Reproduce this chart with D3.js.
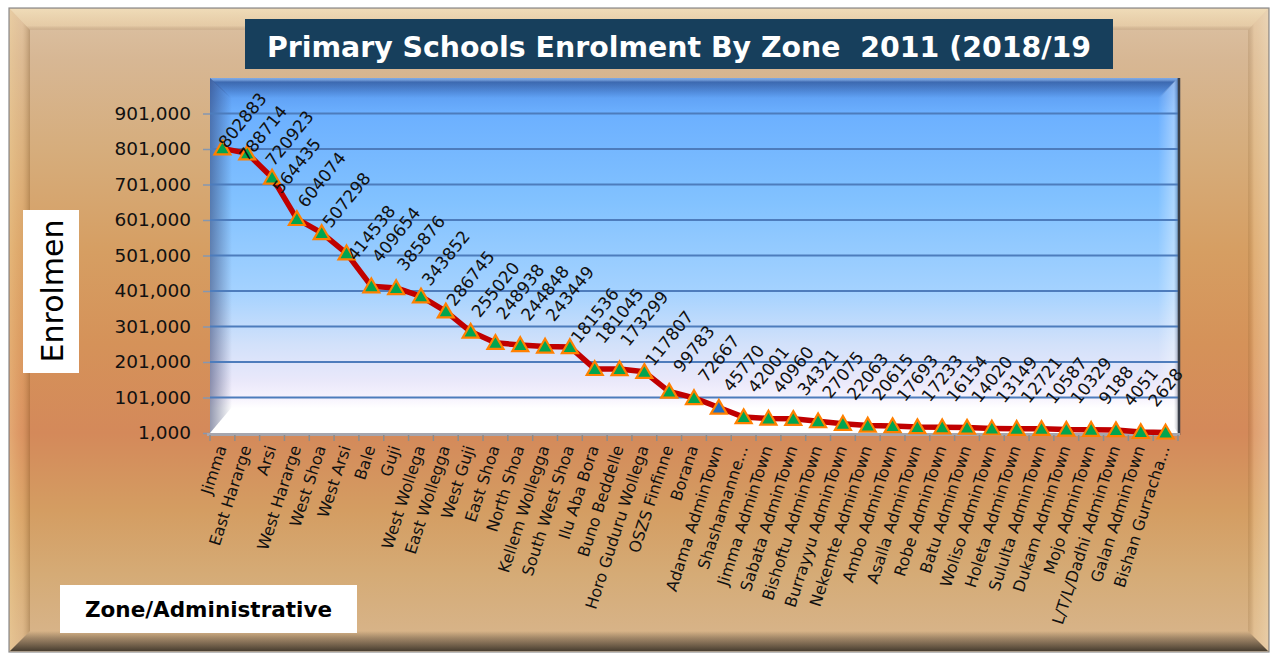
<!DOCTYPE html>
<html><head><meta charset="utf-8">
<script src="https://cdn.jsdelivr.net/npm/d3@7"></script>
<style>
html,body{margin:0;padding:0;background:#fff;}
svg{display:block;}
text{font-family:"DejaVu Sans",Verdana,sans-serif;}
</style></head><body>
<svg id="chart" width="1273" height="656"></svg>
<script>
const categories = ["Jimma","East Hararge","Arsi","West Hararge","West Shoa","West Arsi","Bale","Guji",
  "West Wollega","East Wollegga","West Guji","East Shoa","North Shoa","Kellem Wollegga","South West Shoa",
  "Ilu Aba Bora","Buno Beddelle","Horo Guduru Wollega","OSZS Finfinne","Borana","Adama AdminTown",
  "Shashamanne...","Jimma AdminTown","Sabata AdminTown","Bishoftu AdminTown","Burrayyu AdminTown",
  "Nekemte AdminTown","Ambo AdminTown","Asalla AdminTown","Robe AdminTown","Batu AdminTown",
  "Woliso AdminTown","Holeta AdminTown","Sululta AdminTown","Dukam AdminTown","Mojo AdminTown",
  "L/T/L/Dadhi AdminTown","Galan AdminTown","Bishan Gurracha..."];
const values = [802883,788714,720923,604074,564435,507298,414538,409654,385876,343852,286745,255020,
  248938,244848,243449,181536,181045,173299,117807,99783,72667,45770,42001,40960,34321,27075,22063,
  20615,17693,17233,16154,14020,13149,12721,10587,10329,9188,4051,2628];
const dataLabels = ["802883","788714","720923","564435","604074","507298","414538","409654","385876",
  "343852","286745","255020","248938","244848","243449","181536","181045","173299","117807","99783",
  "72667","45770","42001","40960","34321","27075","22063","20615","17693","17233","16154","14020",
  "13149","12721","10587","10329","9188","4051","2628"];
const highlighted = ["Adama AdminTown"];
const yTickValues = [1000,101000,201000,301000,401000,501000,601000,701000,801000,901000];
const yDomain = [1000, 1001000];
const titleText = "Primary Schools Enrolment By Zone  2011 (2018/19";
const yAxisTitle = "Enrolmen";
const xAxisTitle = "Zone/Administrative";

const svg = d3.select("#chart");
const defs = svg.append("defs");
function grad(id, x1, y1, x2, y2, stops) {
  const g = defs.append("linearGradient").attr("id", id)
    .attr("x1", x1).attr("y1", y1).attr("x2", x2).attr("y2", y2);
  stops.forEach(s => g.append("stop").attr("offset", s[0]).attr("stop-color", s[1]).attr("stop-opacity", s[2] == null ? 1 : s[2]));
  return "url(#" + id + ")";
}
const poly = pts => "M" + pts.map(p => p.join(",")).join("L") + "Z";

// ---- outer frame ----
const bgFill = grad("bg", 0, 0, 0, 1, [
  [0, "#dcc2a4"], [0.08, "#d7b794"], [0.22, "#d6ad7c"], [0.38, "#d69e62"], [0.52, "#d59259"],
  [0.66, "#d4895a"], [0.78, "#d49d62"], [0.88, "#d5ab76"], [1, "#d8b68e"]]);
svg.append("rect").attr("x", 9).attr("y", 8).attr("width", 1260).attr("height", 644)
  .attr("fill", bgFill).attr("stroke", "#8c8c8c").attr("stroke-width", 1.2);
svg.append("path").attr("d", poly([[10,9],[1268,9],[1248,30],[30,30]]))
  .attr("fill", grad("bvT", 0, 0, 0, 1, [[0, "#fff0c8", 0.55], [0.8, "#ffe8b8", 0.3], [1, "#8a6a40", 0.12]]));
svg.append("path").attr("d", poly([[10,9],[30,30],[30,631],[10,651]]))
  .attr("fill", grad("bvL", 0, 0, 1, 0, [[0, "#ffe0a0", 0.35], [0.6, "#ffd090", 0.15], [1, "#704818", 0.3]]));
svg.append("path").attr("d", poly([[1268,9],[1248,30],[1248,631],[1268,651]]))
  .attr("fill", grad("bvR", 0, 0, 1, 0, [[0, "#704818", 0.15], [0.3, "#ffe0b0", 0.25], [1, "#fff0d0", 0.4]]));
svg.append("path").attr("d", poly([[10,651],[30,631],[1248,631],[1268,651]]))
  .attr("fill", grad("bvB", 0, 0, 0, 1, [[0, "#3c3228", 0], [0.35, "#3c3228", 0.35], [1, "#2e281f", 0.85]]));

// ---- title ----
svg.append("rect").attr("x", 245).attr("y", 19).attr("width", 868).attr("height", 50).attr("fill", "#173f5c");
svg.append("text").attr("x", 679).attr("y", 57).attr("text-anchor", "middle")
  .attr("xml:space", "preserve").style("white-space", "pre")
  .attr("font-size", 28.4).attr("font-weight", "bold").attr("fill", "#ffffff").text(titleText);

// ---- plot area ----
const pl = 210, pr = 1178, pt = 78, pb = 433;
const x = d3.scaleBand().domain(categories).range([pl, pr]).padding(0);
const y = d3.scaleLinear().domain(yDomain).range([pb, pt]);
const cx = c => x(c) + x.bandwidth() / 2;

svg.append("rect").attr("x", pl).attr("y", pt).attr("width", pr - pl).attr("height", pb - pt)
  .attr("fill", grad("wall", 0, 0, 0, 1, [
    [0, "#5a92e0"], [0.04, "#5d9ef2"], [0.1, "#6cb0ff"], [0.35, "#82c2ff"], [0.6, "#a4d2ff"],
    [0.75, "#d2e1fa"], [0.85, "#e9e8fa"], [0.9, "#f6f2fd"], [0.93, "#ffffff"], [1, "#ffffff"]]));
svg.append("path").attr("d", poly([[pl,pt],[pr,pt],[pr-18,pt+20],[pl+20,pt+20]]))
  .attr("fill", grad("shT", 0, 0, 0, 1, [[0, "#ffffff", 0.2], [0.2, "#1e3c7a", 0.5], [1, "#1e3c7a", 0]]));
svg.append("path").attr("d", poly([[pl,pt],[pl+22,pt+20],[pl+22,pb-26],[pl,pb]]))
  .attr("fill", grad("shL", 0, 0, 1, 0, [[0, "#283260", 0.5], [1, "#283260", 0]]));
svg.append("path").attr("d", poly([[pr,pt],[pr-20,pt+20],[pr-20,pb-28],[pr,pb]]))
  .attr("fill", grad("shR", 0, 0, 1, 0, [[0, "#ffffff", 0], [0.8, "#ffffff", 0.35], [1, "#505868", 0.35]]));

// gridlines
svg.append("g").selectAll("line").data(yTickValues.filter(v => v > yDomain[0])).join("line")
  .attr("x1", pl).attr("x2", pr).attr("y1", d => y(d)).attr("y2", d => y(d))
  .attr("stroke", "#4d7cbc").attr("stroke-width", 2);

svg.append("line").attr("x1", pr + 1).attr("x2", pr + 1).attr("y1", pt).attr("y2", pb + 2)
  .attr("stroke", "#3a3f48").attr("stroke-width", 2.5);

// y axis
const yAxis = d3.axisLeft(y).tickValues(yTickValues).tickFormat(d3.format(",")).tickSize(7).tickPadding(12);
const yg = svg.append("g").attr("transform", `translate(${pl},0)`).call(yAxis);
yg.select(".domain").remove();
yg.selectAll(".tick line").attr("stroke", "#8497b0").attr("stroke-width", 1.5);
yg.selectAll(".tick text").attr("font-size", 18.5).attr("fill", "#111")
  .attr("font-family", "'DejaVu Sans',Verdana,sans-serif");

// x axis
svg.append("line").attr("x1", pl - 3).attr("x2", pr + 2).attr("y1", pb + 1.5).attr("y2", pb + 1.5)
  .attr("stroke", "#a6a6ae").attr("stroke-width", 3);
const boundaries = categories.map(c => x(c)).concat([x(categories[categories.length - 1]) + x.bandwidth()]);
svg.append("g").selectAll("line").data(boundaries).join("line")
  .attr("x1", d => d).attr("x2", d => d).attr("y1", pb + 2).attr("y2", pb + 8)
  .attr("stroke", "#8c8c8c").attr("stroke-width", 1.5);
svg.append("g").selectAll("text").data(categories).join("text")
  .attr("transform", d => `translate(${cx(d) - 1},${pb + 13}) rotate(-72)`)
  .attr("text-anchor", "end").attr("dy", "0.35em").attr("font-size", 16).attr("fill", "#111")
  .text(d => d);

// line + markers
const pts = categories.map((c, i) => ({ c, v: values[i], label: dataLabels[i] }));
svg.append("path").datum(pts)
  .attr("d", d3.line().x(d => cx(d.c)).y(d => y(d.v)))
  .attr("fill", "none").attr("stroke", "#c00000").attr("stroke-width", 5.5)
  .attr("stroke-linejoin", "round");
svg.append("g").selectAll("path").data(pts).join("path")
  .attr("d", d3.symbol(d3.symbolTriangle, 110))
  .attr("transform", d => `translate(${cx(d.c)},${y(d.v) + 1.5})`)
  .attr("fill", d => highlighted.includes(d.c) ? "#1f6fc0" : "#00a550")
  .attr("stroke", "#ff8000").attr("stroke-width", 2.2);

// data labels (centred above the point, nudged to avoid the plot edge / overlapping the previous label)
const ang = 51, rad = ang * Math.PI / 180, fs = 17, gh = 13, digitW = 0.636;
const overlapGap = 15, pushGap = 24;
const nx = Math.sin(rad), ny = Math.cos(rad);
const lg = svg.append("g");
let prev = null;
pts.forEach(d => {
  const L = d.label.length * digitW * fs;
  const halfH = (L * Math.sin(rad) + gh * Math.cos(rad)) / 2;
  const halfW = (L * Math.cos(rad) + gh * Math.sin(rad)) / 2;
  let px = cx(d.c), py = y(d.v) - (24 + halfH);
  px = Math.max(px, pl + 7 + halfW);
  py = Math.max(py, pt + 13 + halfH);
  if (prev) {
    const dist = (px - prev[0]) * nx + (py - prev[1]) * ny;
    if (dist < overlapGap) { px += (pushGap - dist) * nx; py += (pushGap - dist) * ny; }
  }
  prev = [px, py];
  lg.append("text").attr("font-size", fs).attr("fill", "#111")
    .attr("text-anchor", "middle").attr("dy", "0.35em")
    .attr("transform", `translate(${px},${py}) rotate(${-ang})`).text(d.label);
});

// axis titles
svg.append("rect").attr("x", 23).attr("y", 210).attr("width", 56).attr("height", 163).attr("fill", "#fff");
svg.append("text").attr("transform", "translate(52,291) rotate(-90)").attr("text-anchor", "middle")
  .attr("dy", "0.36em").attr("font-size", 30).attr("fill", "#000")
  .attr("font-family", "'Liberation Sans',Arial,sans-serif").text(yAxisTitle);
svg.append("rect").attr("x", 60).attr("y", 585).attr("width", 297).attr("height", 48).attr("fill", "#fff");
svg.append("text").attr("x", 208.5).attr("y", 617).attr("text-anchor", "middle")
  .attr("font-size", 21.5).attr("font-weight", "bold").attr("fill", "#000").text(xAxisTitle);
</script>
</body></html>
